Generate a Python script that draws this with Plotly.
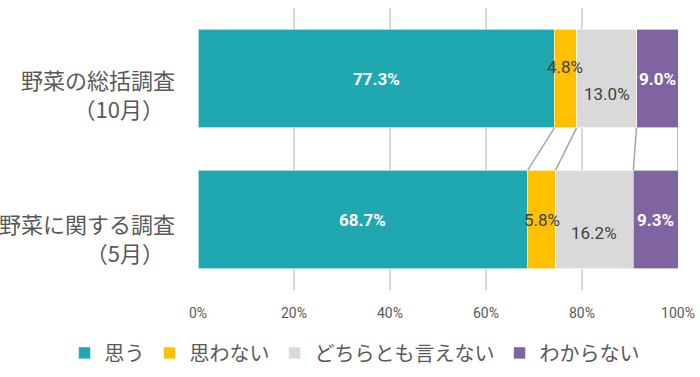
import plotly.graph_objects as go
import numpy as np

categories = ["野菜の総括調査<br>（10月）　", "野菜に関する調査<br>（5月）　"]
series_names = ["思う", "思わない", "どちらとも言えない", "わからない"]
values = {
    "思う": [77.3, 68.7],
    "思わない": [4.8, 5.8],
    "どちらとも言えない": [13.0, 16.2],
    "わからない": [9.0, 9.3],
}
colors = {"思う": "#1FA8B0", "思わない": "#FFC000", "どちらとも言えない": "#D9D9D9", "わからない": "#8064A2"}
label_colors = {"思う": "white", "思わない": "#404040", "どちらとも言えない": "#404040", "わからない": "white"}
label_shift = {"思う": [0, 0], "思わない": [12, 0], "どちらとも言えない": [-15, -13], "わからない": [0, 0]}
tick_vals = [0, 20, 40, 60, 80, 100]
tick_text = ["0%", "20%", "40%", "60%", "80%", "100%"]

ypos = list(range(len(categories)))
mat = np.array([values[s] for s in series_names])
norm = mat / mat.sum(axis=0) * 100
cum = np.cumsum(norm, axis=0)

fig = go.Figure()
for s in series_names:
    fig.add_trace(go.Bar(
        name=s, y=ypos, x=values[s], orientation="h",
        marker=dict(color=colors[s], line=dict(color="rgba(255,255,255,0.6)", width=1)),
        hoverinfo="skip",
    ))

# series lines between bars
half = 0.35
lx, ly = [], []
for i in range(len(series_names)):
    lx += [cum[i][0], cum[i][1], None]
    ly += [ypos[0] + half, ypos[1] - half, None]
fig.add_trace(go.Scatter(x=lx, y=ly, mode="lines", line=dict(color="#A6A6A6", width=1.5),
                         showlegend=False, hoverinfo="skip"))

annotations = []
for i, s in enumerate(series_names):
    for j in range(len(categories)):
        mid = cum[i][j] - norm[i][j] / 2
        white = label_colors[s] == "white"
        txt = f"{values[s][j]:.1f}%"
        annotations.append(dict(
            x=mid, y=ypos[j], xref="x", yref="y", text=f"<b>{txt}</b>" if white else txt,
            showarrow=False, yshift=label_shift[s][j],
            font=dict(family="Roboto, sans-serif", size=17, color=label_colors[s]),
        ))
for j, c in enumerate(categories):
    annotations.append(dict(
        x=0, y=ypos[j], xref="paper", yref="y", text=c, showarrow=False,
        xanchor="right", yanchor="middle", align="right", xshift=-21, yshift=[-15, -18][j],
        font=dict(family="Noto Sans CJK JP, sans-serif", size=22, color="#595959"),
    ))

fig.update_layout(
    width=700, height=377,
    margin=dict(l=198, r=22, t=8, b=87, autoexpand=False),
    barmode="stack", barnorm="percent", bargap=0.3,
    plot_bgcolor="white", paper_bgcolor="white",
    font=dict(family="Noto Sans CJK JP, sans-serif", color="#595959"),
    legend=dict(orientation="h", xref="paper", x=-0.278, xanchor="left",
                yref="paper", y=-0.223, yanchor="middle",
                font=dict(size=20, color="#595959"), traceorder="normal",
                itemwidth=30),
    annotations=annotations,
    showlegend=True,
)
fig.update_xaxes(range=[0, 100], tickvals=tick_vals, ticktext=tick_text,
                 showgrid=True, gridcolor="#D9D9D9", gridwidth=1.5, zeroline=False,
                 ticks="outside", ticklen=10, tickcolor="rgba(0,0,0,0)",
                 tickfont=dict(family="Roboto, sans-serif", size=14, color="#595959"),
                 fixedrange=True)
fig.update_yaxes(range=[1.5, -0.5], showticklabels=False, showgrid=False, zeroline=False,
                 fixedrange=True)
fig.write_html("out.html", config={"displayModeBar": False},
               post_script="document.body.style.margin='0';")
